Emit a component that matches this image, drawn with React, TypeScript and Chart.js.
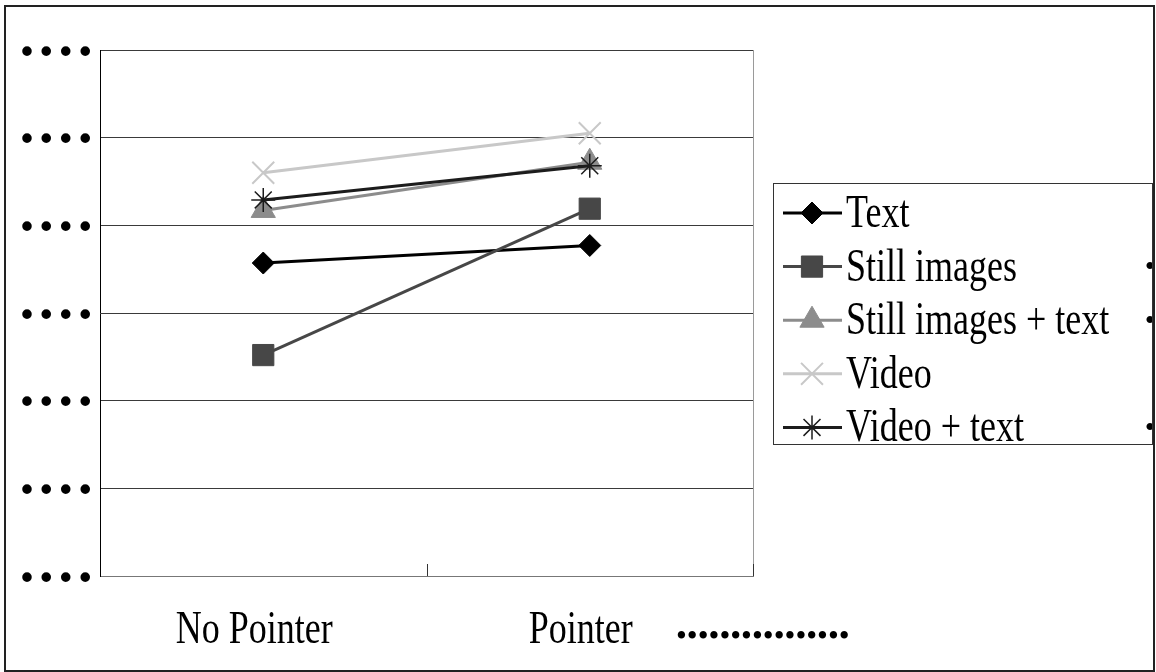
import React, { useEffect, useRef } from 'react';
import { Chart, registerables } from 'chart.js';
import { drawPoint } from 'chart.js/helpers';

Chart.register(...registerables);

const categories = ['No Pointer', 'Pointer'];
const seriesNames = ['Text', 'Still images', 'Still images + text', 'Video', 'Video + text'];
const textValues = [3.57, 3.77];
const stillImagesValues = [2.52, 4.19];
const stillImagesTextValues = [4.17, 4.72];
const videoValues = [4.6, 5.05];
const videoTextValues = [4.29, 4.68];
const yMin = 0;
const yMax = 6;
const yStep = 1;
const yTickLabel = '••••';
const xAxisTitle = '••••••••••••••••';
const legendExtras = ['', '•', '•', '', '•'];

const seriesValues = [textValues, stillImagesValues, stillImagesTextValues, videoValues, videoTextValues];
const seriesColors = ['#000000', '#474747', '#8c8c8c', '#c8c8c8', '#1c1c1c'];
const seriesPointStyles = ['rectRot', 'rect', 'triangle', 'crossRot', 'star'];
const seriesPointRadius = [11, 15, 14, 15.5, 12];
const seriesPointBorder = [1, 1, 1, 2, 1.5];

const SERIF = '"Liberation Serif", "Times New Roman", serif';
const STRETCH = 1.28;

function stretchedText(ctx: CanvasRenderingContext2D, text: string, x: number, baseline: number, align: CanvasTextAlign) {
  ctx.save();
  ctx.translate(x, baseline);
  ctx.scale(1, STRETCH);
  ctx.textAlign = align;
  ctx.textBaseline = 'alphabetic';
  ctx.fillText(text, 0, 0);
  ctx.restore();
}

const decorPlugin = {
  id: 'decor',
  afterDraw(chart: any) {
    const ctx: CanvasRenderingContext2D = chart.ctx;
    const area = chart.chartArea;
    const xs = chart.scales.x;
    ctx.save();

    // plot right border
    ctx.strokeStyle = '#9a9a9a';
    ctx.lineWidth = 1;
    ctx.beginPath();
    ctx.moveTo(Math.round(area.right) + 0.5, area.top);
    ctx.lineTo(Math.round(area.right) + 0.5, area.bottom);
    ctx.stroke();

    // inner tick marks at category boundaries
    const half = (xs.getPixelForValue(1) - xs.getPixelForValue(0)) / 2;
    ctx.strokeStyle = '#333';
    for (let i = 0; i < categories.length; i++) {
      const bx = Math.round(xs.getPixelForValue(i) + half) + 0.5;
      ctx.beginPath();
      ctx.moveTo(bx, area.bottom - 12);
      ctx.lineTo(bx, area.bottom);
      ctx.stroke();
    }

    // category labels
    ctx.fillStyle = '#000';
    ctx.font = `36px ${SERIF}`;
    categories.forEach((c, i) => {
      stretchedText(ctx, c, xs.getPixelForValue(i) - 9, area.bottom + 67, 'center');
    });

    // axis title (garbled)
    ctx.font = `31px ${SERIF}`;
    ctx.textAlign = 'left';
    ctx.textBaseline = 'middle';
    ctx.fillText(xAxisTitle, area.right - 77, area.bottom + 62);

    // legend
    const lx = area.right + 20;
    const ly = area.top + 133;
    const lw = 379;
    const lh = 261;
    ctx.strokeStyle = '#333';
    ctx.lineWidth = 1;
    ctx.strokeRect(Math.round(lx) + 0.5, Math.round(ly) + 0.5, lw, lh);
    const rowH = 53.6;
    chart.data.datasets.forEach((ds: any, i: number) => {
      const cy = ly + 30 + i * rowH;
      ctx.strokeStyle = ds.borderColor;
      ctx.lineWidth = 3;
      ctx.beginPath();
      ctx.moveTo(lx + 10, cy);
      ctx.lineTo(lx + 69, cy);
      ctx.stroke();
      ctx.fillStyle = ds.pointBackgroundColor;
      ctx.strokeStyle = ds.pointBorderColor;
      ctx.lineWidth = ds.pointBorderWidth;
      drawPoint(ctx, { pointStyle: ds.pointStyle, radius: ds.pointRadius, borderWidth: ds.pointBorderWidth, rotation: 0 } as any, lx + 39, cy);
      ctx.fillStyle = '#000';
      ctx.font = `36px ${SERIF}`;
      stretchedText(ctx, ds.label, lx + 73, cy + 14, 'left');
      if (legendExtras[i]) {
        ctx.save();
        ctx.beginPath();
        ctx.rect(lx, ly, lw, lh);
        ctx.clip();
        ctx.font = `30px ${SERIF}`;
        ctx.textAlign = 'center';
        ctx.textBaseline = 'middle';
        ctx.fillText(legendExtras[i], lx + lw - 2, cy + 2);
        ctx.restore();
      }
    });

    // outer border
    ctx.strokeStyle = '#222';
    ctx.lineWidth = 2;
    ctx.strokeRect(5, 6, chart.width - 7, chart.height - 7);
    ctx.restore();
  },
};

export default function App() {
  const ref = useRef<HTMLCanvasElement | null>(null);
  useEffect(() => {
    document.body.style.margin = '0';
    const canvas = ref.current!;
    const chart = new Chart(canvas, {
      type: 'line',
      data: {
        labels: categories,
        datasets: seriesNames.map((name, i) => ({
          label: name,
          data: seriesValues[i],
          borderColor: seriesColors[i],
          backgroundColor: seriesColors[i],
          pointBackgroundColor: seriesColors[i],
          pointBorderColor: seriesColors[i],
          pointStyle: seriesPointStyles[i] as any,
          pointRadius: seriesPointRadius[i],
          pointBorderWidth: seriesPointBorder[i],
          borderWidth: 3,
          tension: 0,
          fill: false,
          order: seriesNames.length - i,
        })),
      },
      options: {
        responsive: false,
        animation: false,
        devicePixelRatio: 1,
        events: [],
        layout: { padding: { top: 50, right: 403, left: 0, bottom: 0 } },
        plugins: { legend: { display: false }, tooltip: { enabled: false } },
        scales: {
          x: {
            type: 'category',
            offset: true,
            grid: { display: false },
            border: { display: true, color: '#777', width: 1 },
            ticks: { display: false },
            afterFit: (s: any) => { s.height = 96; },
          },
          y: {
            min: yMin,
            max: yMax,
            ticks: {
              stepSize: yStep,
              callback: () => yTickLabel,
              font: { family: '"DejaVu Sans"', size: 33 },
              color: '#000',
              padding: 5,
              labelOffset: 5,
            },
            grid: { color: '#3a3a3a', lineWidth: 1, drawTicks: false },
            border: { display: true, color: '#000', width: 1 },
            afterFit: (s: any) => { s.width = 100; },
          },
        },
      },
      plugins: [decorPlugin],
    });
    return () => chart.destroy();
  }, []);
  return <canvas ref={ref} width={1156} height={672} style={{ display: 'block' }} />;
}
